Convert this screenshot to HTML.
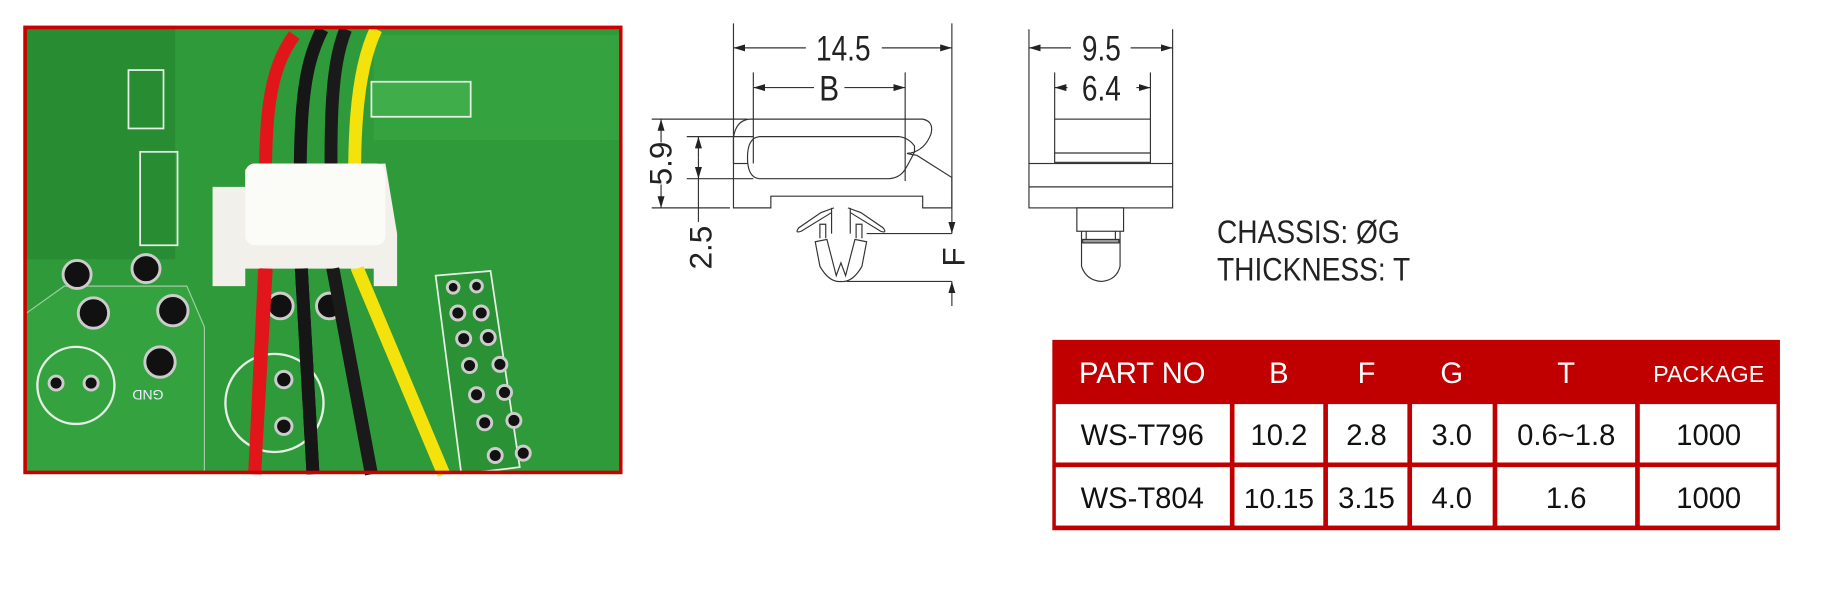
<!DOCTYPE html>
<html><head><meta charset="utf-8"><style>
html,body{margin:0;padding:0;background:#fff;width:1822px;height:594px;overflow:hidden}
svg{display:block}
text{font-family:"Liberation Sans",Arial,sans-serif}
</style></head><body>
<svg width="1822" height="594" viewBox="0 0 1560 508.6" preserveAspectRatio="none" xmlns="http://www.w3.org/2000/svg">
<defs><marker id="ar" markerWidth="10" markerHeight="6" refX="10" refY="3" orient="auto" markerUnits="userSpaceOnUse"><path d="M0,0 L10,3 L0,6 z" fill="#222"/></marker></defs>
<g>
<rect x="20" y="22" width="513" height="384" fill="#2f9a3a"/>
<rect x="20" y="22" width="130" height="200" fill="#23842d" opacity="0.6"/>
<rect x="320" y="30" width="210" height="90" fill="#36a542" opacity="0.7"/>
<path d="M20,270 L55,245 L160,245 L175,280 L175,406 L20,406 z" fill="#38a843" opacity="0.6" stroke="#e8f0e8" stroke-width="1"/>
<rect x="110" y="60" width="30" height="50" fill="none" stroke="#e6efe6" stroke-width="1.5"/>
<rect x="120" y="130" width="32" height="80" fill="none" stroke="#e6efe6" stroke-width="1.5"/>
<rect x="318" y="70" width="85" height="30" fill="#3fae4a" stroke="#e6efe6" stroke-width="1.5"/>
<path d="M373,236 L420,232 L445,400 L395,406 z" fill="#2a9234" stroke="#e6efe6" stroke-width="1.5"/>
<g fill="#111" stroke="#ccc" stroke-width="2.5">
<circle cx="66" cy="235" r="12"/><circle cx="125" cy="230" r="12"/><circle cx="80" cy="268" r="13"/><circle cx="148" cy="266" r="13"/><circle cx="137" cy="310" r="13"/>
<circle cx="240" cy="262" r="11"/><circle cx="282" cy="262" r="11"/><circle cx="243" cy="325" r="7"/><circle cx="243" cy="365" r="7"/>
<circle cx="48" cy="328" r="6"/><circle cx="78" cy="328" r="6"/>
<circle cx="388" cy="246" r="5"/><circle cx="408" cy="245" r="5"/><circle cx="392" cy="268" r="6"/><circle cx="412" cy="268" r="6"/><circle cx="397" cy="290" r="6"/><circle cx="418" cy="289" r="6"/><circle cx="402" cy="313" r="6"/><circle cx="428" cy="312" r="6"/><circle cx="408" cy="338" r="6"/><circle cx="432" cy="336" r="6"/><circle cx="415" cy="362" r="6"/><circle cx="440" cy="360" r="6"/><circle cx="424" cy="390" r="6"/><circle cx="448" cy="388" r="6"/>
</g>
<circle cx="65" cy="330" r="33" fill="none" stroke="#e6efe6" stroke-width="2"/>
<circle cx="235" cy="345" r="42" fill="none" stroke="#e6efe6" stroke-width="2"/>
<path d="M252,30 C230,60 225,100 228,200 L218,406" fill="none" stroke="#e0161a" stroke-width="11"/>
<path d="M276,25 C258,60 255,100 258,230 L268,406" fill="none" stroke="#161616" stroke-width="11"/>
<path d="M296,25 C282,60 282,110 285,230 L318,406" fill="none" stroke="#1a1a1a" stroke-width="11"/>
<path d="M322,25 C305,60 300,120 306,230 L380,406" fill="none" stroke="#f4e20c" stroke-width="11"/>
<path d="M182,160 L210,160 L210,145 L330,140 L340,200 L340,245 L320,245 L320,230 L210,230 L210,245 L182,245 z" fill="#f2f0ea"/>
<rect x="210" y="140" width="120" height="70" rx="8" fill="#fbfbf7"/>
<path d="M228,230 L218,406" stroke="#e0161a" stroke-width="11"/>
<path d="M258,230 L268,406" stroke="#161616" stroke-width="11"/>
<path d="M285,230 L318,406" stroke="#1a1a1a" stroke-width="11"/>
<path d="M306,230 L380,406" stroke="#f4e20c" stroke-width="11"/>
<text x="110" y="342" font-size="12" fill="#eef" transform="rotate(180 125 338)">GND</text>
<rect x="21.5" y="23.5" width="510" height="381" fill="none" stroke="#c00" stroke-width="3"/>
</g>
<g fill="none" stroke="#333" stroke-width="1">
<line x1="628" y1="20" x2="628" y2="140"/><line x1="815" y1="20" x2="815" y2="182"/>
<line x1="690" y1="41" x2="628" y2="41" marker-end="url(#ar)"/><line x1="755" y1="41" x2="815" y2="41" marker-end="url(#ar)"/>
<line x1="645" y1="62" x2="645" y2="140"/><line x1="775" y1="62" x2="775" y2="155"/>
<line x1="697" y1="75" x2="645" y2="75" marker-end="url(#ar)"/><line x1="723" y1="75" x2="775" y2="75" marker-end="url(#ar)"/>
<path d="M628,178 L628,118 Q630,103 642,102 L790,102 Q800,104 797,115 Q792,128 780,131 Q772,131 785,133 L815,152 L815,178 L790,178 L790,168 L660,168 L660,178 Z"/>
<path d="M650,117 L770,117 Q778,118 783,125 L783,130 Q778,140 775,145 Q770,153 760,153 L650,153 Q640,152 640,135 Q640,118 650,117 Z"/>
<line x1="628" y1="140" x2="640" y2="140"/>
<line x1="558" y1="102" x2="640" y2="102"/><line x1="558" y1="178" x2="625" y2="178"/>
<line x1="566" y1="122" x2="566" y2="102" marker-end="url(#ar)"/><line x1="566" y1="158" x2="566" y2="178" marker-end="url(#ar)"/>
<line x1="588" y1="117" x2="645" y2="117"/><line x1="588" y1="153" x2="645" y2="153"/>
<line x1="598" y1="135" x2="598" y2="117" marker-end="url(#ar)"/><line x1="598" y1="135" x2="598" y2="153" marker-end="url(#ar)"/>
<line x1="598" y1="153" x2="598" y2="190"/>
<path d="M712,178 L712,200 M728,178 L728,200 M714,178 L703,182 L684,195 Q680,200 686,198 L712,182 M726,178 L737,182 L756,195 Q760,200 754,198 L728,182"/>
<path d="M702,204 L702,192 L707,192 L707,204 M733,204 L733,192 L738,192 L738,204"/>
<path d="M698,207 L708,205 L716,236 L720,225 L724,236 L732,205 L742,207 L738,228 Q730,242 720,241 Q710,242 702,228 Z"/>
<line x1="742" y1="200" x2="815" y2="200"/><line x1="725" y1="241" x2="815" y2="241"/>
<line x1="815" y1="182" x2="815" y2="200" marker-end="url(#ar)"/><line x1="815" y1="262" x2="815" y2="241" marker-end="url(#ar)"/>
<line x1="881" y1="25" x2="881" y2="140"/><line x1="1004" y1="25" x2="1004" y2="140"/>
<line x1="917" y1="41" x2="881" y2="41" marker-end="url(#ar)"/><line x1="968" y1="41" x2="1004" y2="41" marker-end="url(#ar)"/>
<line x1="903" y1="62" x2="903" y2="102"/><line x1="985" y1="62" x2="985" y2="102"/>
<line x1="914" y1="75" x2="903" y2="75" marker-end="url(#ar)"/><line x1="973" y1="75" x2="985" y2="75" marker-end="url(#ar)"/>
<rect x="903" y="102" width="82" height="37"/><line x1="903" y1="131" x2="985" y2="131"/>
<rect x="881" y="140" width="123" height="38"/><line x1="881" y1="160" x2="1004" y2="160"/>
<rect x="922" y="178" width="40" height="20"/>
<path d="M926,198 L926,228 Q930,240 943,241 Q956,240 959,228 L959,198 M930,198 L930,205 M955,198 L955,205"/>
<rect x="927" y="205" width="31" height="3" fill="#999"/>
</g>
<g fill="#222" font-size="30">
<text x="722" y="52" text-anchor="middle" transform="translate(722 0) scale(0.8 1) translate(-722 0)">14.5</text>
<text x="710" y="86" text-anchor="middle" transform="translate(710 0) scale(0.85 1) translate(-710 0)">B</text>
<text x="943" y="52" text-anchor="middle" transform="translate(943 0) scale(0.8 1) translate(-943 0)">9.5</text>
<text x="943" y="86" text-anchor="middle" transform="translate(943 0) scale(0.8 1) translate(-943 0)">6.4</text>
<text x="0" y="0" font-size="27" text-anchor="middle" transform="translate(575 140) rotate(-90)">5.9</text>
<text x="0" y="0" font-size="27" text-anchor="middle" transform="translate(609 212) rotate(-90)">2.5</text>
<text x="0" y="0" font-size="27" text-anchor="middle" transform="translate(826 220) rotate(-90)">F</text>
<g transform="translate(1042 0) scale(0.86 1)" font-size="28"><text x="0" y="208">CHASSIS: ØG</text><text x="0" y="240">THICKNESS: T</text></g>
</g>
<rect x="901" y="291" width="623" height="163" fill="#c00000"/>
<g fill="#fff">
<rect x="904" y="346" width="149" height="50"/><rect x="1057" y="346" width="76" height="50"/><rect x="1137" y="346" width="68" height="50"/><rect x="1209" y="346" width="69" height="50"/><rect x="1282" y="346" width="118" height="50"/><rect x="1404" y="346" width="117" height="50"/>
<rect x="904" y="400" width="149" height="50"/><rect x="1057" y="400" width="76" height="50"/><rect x="1137" y="400" width="68" height="50"/><rect x="1209" y="400" width="69" height="50"/><rect x="1282" y="400" width="118" height="50"/><rect x="1404" y="400" width="117" height="50"/>
</g>
<g fill="#fff" font-size="25" text-anchor="middle">
<text x="978" y="328">PART NO</text><text x="1095" y="328">B</text><text x="1170" y="328">F</text><text x="1243" y="328">G</text><text x="1341" y="328">T</text><text x="1463" y="327" font-size="20">PACKAGE</text>
</g>
<g fill="#111" font-size="25" text-anchor="middle">
<text x="978" y="381">WS-T796</text><text x="1095" y="381">10.2</text><text x="1170" y="381">2.8</text><text x="1243" y="381">3.0</text><text x="1341" y="381">0.6~1.8</text><text x="1463" y="381">1000</text>
<text x="978" y="435">WS-T804</text><text x="1095" y="435" font-size="24">10.15</text><text x="1170" y="435">3.15</text><text x="1243" y="435">4.0</text><text x="1341" y="435">1.6</text><text x="1463" y="435">1000</text>
</g>
</svg>
</body></html>
